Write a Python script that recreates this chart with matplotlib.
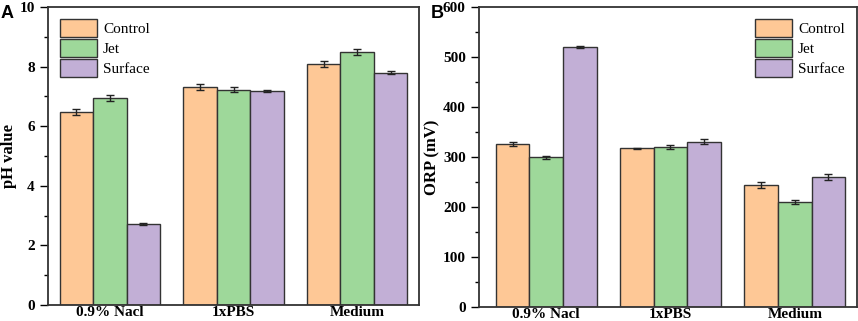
import matplotlib.pyplot as plt
import numpy as np
from matplotlib.ticker import MultipleLocator

groups = ['0.9% Nacl', '1xPBS', 'Medium']
series = ['Control', 'Jet', 'Surface']
colors = ['#FEC896', '#9ED89A', '#C2AFD6']

ph_mean = [[6.47, 7.33, 8.10],
           [6.95, 7.22, 8.48],
           [2.72, 7.18, 7.80]]
ph_err = [[0.10, 0.10, 0.10],
          [0.10, 0.08, 0.10],
          [0.03, 0.04, 0.05]]

orp_mean = [[327, 318, 244],
            [300, 321, 210],
            [521, 331, 261]]
orp_err = [[4, 1, 6],
           [3, 4, 4],
           [2, 5, 6]]

plt.rcParams['font.family'] = 'Liberation Serif'
edge = '#333333'

fig = plt.figure(figsize=(8.58, 3.21), dpi=100)
axA = fig.add_axes([48/858, 1-305/321, 371/858, 298/321])
axB = fig.add_axes([479/858, 1-307/321, 378/858, 300/321])

x = np.arange(len(groups))
w = 0.27


def draw(ax, means, errs, ylim, major, minor, ylabel, loc, xl):
    for i, s in enumerate(series):
        ax.bar(x + (i - 1) * w, means[i], w, yerr=errs[i], color=colors[i],
               edgecolor=edge, linewidth=1.0, label=s,
               error_kw=dict(ecolor='#222222', elinewidth=1.0, capsize=3, capthick=1.0))
    ax.set_xlim(*xl)
    ax.set_ylim(*ylim)
    ax.yaxis.set_major_locator(MultipleLocator(major))
    ax.yaxis.set_minor_locator(MultipleLocator(minor))
    ax.set_xticks(x)
    ax.set_xticklabels(groups, fontsize=11, fontweight='bold')
    ax.tick_params(axis='x', length=0, pad=1)
    ax.tick_params(axis='y', which='major', length=6, width=1, direction='out', labelsize=11)
    ax.tick_params(axis='y', which='minor', length=3, width=1, direction='out')
    for lab in ax.get_yticklabels():
        lab.set_fontweight('bold')
    ax.set_ylabel(ylabel, fontsize=12, fontweight='bold', labelpad=2)
    for sp in ax.spines.values():
        sp.set_linewidth(1.3)
        sp.set_color(edge)
    leg = ax.legend(loc=loc, frameon=False, fontsize=11, handlelength=2.4,
                    handleheight=1.4, handletextpad=0.4, labelspacing=0.15,
                    borderaxespad=0.4)
    for h in leg.legend_handles:
        h.set_edgecolor(edge)


draw(axA, ph_mean, ph_err, (0, 10), 2, 1, 'pH value', 'upper left', (-0.5, 2.5))
draw(axB, orp_mean, orp_err, (0, 600), 100, 50, 'ORP (mV)', 'upper right', (-0.54, 2.5))

fig.text(1/858, 1-18/321, 'A', fontsize=13, fontweight='bold', family='Liberation Sans')
fig.text(431/858, 1-18/321, 'B', fontsize=13, fontweight='bold', family='Liberation Sans')

plt.savefig('out.png', dpi=100)
